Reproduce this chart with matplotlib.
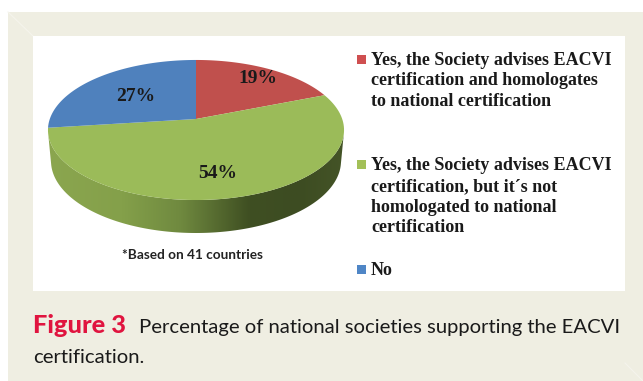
import numpy as np
import matplotlib
matplotlib.use('Agg')
import matplotlib.pyplot as plt
from matplotlib.colors import LinearSegmentedColormap
from matplotlib.patches import Polygon, Rectangle

# percentages, clockwise from 12 o'clock
slice_names = ['Advises and homologates', 'Advises, not homologated', 'No']
slice_values = [19, 54, 27]
slice_colors = ['#c0504d', '#9bbb59', '#4f81bd']
slice_labels = ['19%', '54%', '27%']

legend_lines = [
    ['Yes, the Society advises EACVI', 'certification and homologates', 'to national certification'],
    ['Yes, the Society advises EACVI', 'certification, but it´s not', 'homologated to national', 'certification'],
    ['No'],
]
legend_colors = ['#cf4f50', '#a3c058', '#4f86c6']

footnote = '*Based on 41 countries'
fig_title = 'Figure 3'
caption_1 = 'Percentage of national societies supporting the EACVI'
caption_2 = 'certification.'

serif = 'Liberation Serif'
sans = 'Lato'

fig = plt.figure(figsize=(6.43, 3.81), dpi=100, facecolor='white')
ax = fig.add_axes([0, 0, 1, 1])
ax.set_xlim(0, 643)
ax.set_ylim(381, 0)
ax.axis('off')

# page background and white chart panel
ax.add_patch(Rectangle((8, 12), 635, 369, color='#efeee2', lw=0, zorder=0))
ax.plot([8, 33], [12, 36], color='#f5f4ec', lw=0.8, zorder=0.5)
ax.plot([625, 643], [363, 381], color='#f5f4ec', lw=0.8, zorder=0.5)
ax.add_patch(Rectangle((33, 36), 592, 255, color='white', lw=0, zorder=1))

# the tilted disc: perspective makes the near half look larger
cx, cy = 196, 119
k = 0.157
a = 68.3
b = 146.2


def disc_point(theta):
    u, v = np.sin(theta), np.cos(theta)
    d = 1 + k * v
    return cx + b * u / d, cy - a * v / d


# rim of the disc, lit from the left
t = np.linspace(np.pi / 2 + 0.04, 3 * np.pi / 2 - 0.04, 200)
top_x = 196 + 148 * np.sin(t)
top_y = 130 - 70 * np.cos(t)
low_x = 196 + 145 * np.sin(t)
low_y = 161 - 72 * np.cos(t)
rim_x = np.r_[top_x, low_x[::-1]]
rim_y = np.r_[top_y, low_y[::-1]]
rim_cmap = LinearSegmentedColormap.from_list('rim', [
    (0.0, '#8ba64f'), (0.25, '#84a04a'), (0.45, '#6f893f'),
    (0.68, '#3f4f22'), (0.85, '#3d4c22'), (1.0, '#445427')])
rim = ax.imshow(np.linspace(0, 1, 256).reshape(1, -1), cmap=rim_cmap, aspect='auto',
                extent=(48, 344, 240, 120), zorder=2)
rim_patch = Polygon(np.c_[rim_x, rim_y], closed=True, transform=ax.transData)
rim.set_clip_path(rim_patch)
ax.set_xlim(0, 643)
ax.set_ylim(381, 0)

# top face slices
edges = np.cumsum([0] + slice_values) / sum(slice_values) * 2 * np.pi
for i in range(len(slice_values)):
    th = np.linspace(edges[i], edges[i + 1], 120)
    x, y = disc_point(th)
    ax.fill(np.r_[cx, x], np.r_[cy, y], color=slice_colors[i], lw=0, zorder=3)

# value labels
label_pos = [(258, 83), (218, 178), (136, 101)]
for lab, (x, y) in zip(slice_labels, label_pos):
    ax.text(x, y, lab, family=serif, weight='bold', fontsize=14, color='#1a1a1a',
            ha='center', va='baseline', zorder=4)

ax.text(192, 259, footnote, family=sans, weight='bold', fontsize=9.8, color='#222222',
        ha='center', va='baseline', zorder=4)

# legend, one text per line
line_y = [[65, 85, 106], [170, 191, 212, 232], [275]]
box_y = [55, 160, 265]
for lines, ys, color, by in zip(legend_lines, line_y, legend_colors, box_y):
    ax.add_patch(Rectangle((357, by), 9, 9, color=color, lw=0, zorder=3))
    for line, y in zip(lines, ys):
        ax.text(371, y, line, family=serif, weight='bold', fontsize=13, color='#1a1a1a',
                ha='left', va='baseline', zorder=4)

# caption
ax.text(33, 333, fig_title, family=sans, weight=900, fontsize=18.3, color='#e0143f',
        ha='left', va='baseline', zorder=4)
ax.text(139, 333, caption_1, family=sans, fontsize=14.6, color='#1a1a1a',
        ha='left', va='baseline', zorder=4)
ax.text(33, 363, caption_2, family=sans, fontsize=14.6, color='#1a1a1a',
        ha='left', va='baseline', zorder=4)

fig.savefig('out.png', dpi=100, facecolor='white')
